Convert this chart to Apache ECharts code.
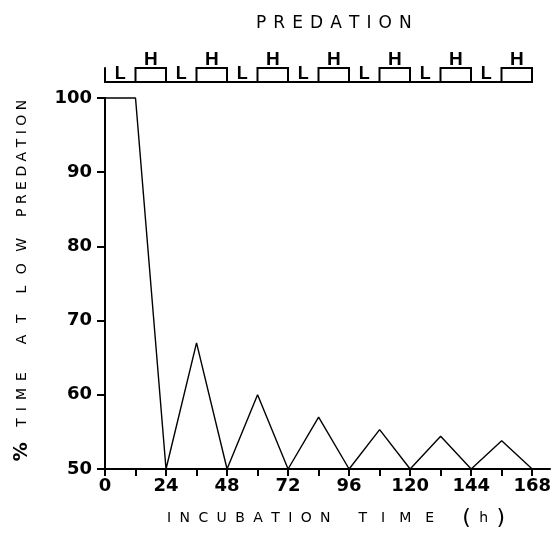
<!DOCTYPE html>
<html><head><meta charset="utf-8">
<script src="https://cdn.jsdelivr.net/npm/echarts@6/dist/echarts.min.js"></script>
<style>html,body{margin:0;padding:0;background:#fff}#c{width:555px;height:541px}</style>
</head><body><div id="c"></div>
<script>
// ---- data ----
const hours  = [0, 12, 24, 36, 48, 60, 72, 84, 96, 108, 120, 132, 144, 156, 168];
const pctLow = [100, 100, 50, 67, 50, 60, 50, 57, 50, 55.3, 50, 54.4, 50, 53.8, 50];
const xLabelTicks = [0, 24, 48, 72, 96, 120, 144, 168];
const xMinorTicks = [0, 12, 24, 36, 48, 60, 72, 84, 96, 108, 120, 132, 144, 156, 168];
const phaseStart = [0, 12, 24, 36, 48, 60, 72, 84, 96, 108, 120, 132, 144, 156];
const phaseLevel = ['L','H','L','H','L','H','L','H','L','H','L','H','L','H'];
const phaseLength = 12;

const FONT = 'DejaVu Sans';
const EN = '\u2002', EM = '\u2003', HAIR = '\u200A';
const spaced = (s, sep) => s.split('').join(sep);
const rep = (s, n) => s.repeat(n);

const chart = echarts.init(document.getElementById('c'), null, {renderer: 'canvas'});
const scheduleData = phaseStart.map((s, i) => [s, s + phaseLength, phaseLevel[i] === 'H' ? 1 : 0]);

const xName = spaced('INCUBATION', EN + HAIR) + rep(EN, 4) + spaced('TIME', EM) + rep(EN, 4) +
  '{p|(}' + EN + HAIR + 'h' + EN + HAIR + '{p|)}';
const yName = '{pc|%}' + rep(EN, 2) + HAIR + spaced('TIME', EN) + rep(EN, 4) + spaced('AT', EN + ' ') + rep(EN, 3) +
  spaced('LOW', EN + ' ') + rep(EN, 3) + spaced('PREDATION', ' ');

chart.setOption({
  backgroundColor: '#fff',
  animation: false,
  title: {
    text: spaced('PREDATION', ' ' + HAIR),
    left: 251, top: 10,
    textStyle: {fontFamily: FONT, fontSize: 17, fontWeight: 'normal', color: '#000'}
  },
  grid: [
    {left: 105, top: 98, width: 445, height: 371, outerBoundsMode: 'none', containLabel: false},
    {left: 105, top: 68, width: 427, height: 14, outerBoundsMode: 'none', containLabel: false}
  ],
  xAxis: [
    {
      gridIndex: 0, type: 'value', min: 0, max: 175,
      name: xName,
      nameLocation: 'middle', nameGap: 38,
      nameTextStyle: {
        fontFamily: FONT, fontSize: 14, color: '#000', padding: [0, 0, 0, 17],
        rich: {p: {fontFamily: FONT, fontSize: 22, color: '#000'}}
      },
      axisLine: {show: true, lineStyle: {color: '#000', width: 2}},
      axisTick: {show: true, customValues: xMinorTicks, length: 7, inside: false, lineStyle: {color: '#000', width: 2}},
      axisLabel: {show: true, customValues: xLabelTicks, margin: 8, fontFamily: FONT, fontSize: 18, fontWeight: 'bold', color: '#000'},
      splitLine: {show: false}
    },
    {
      gridIndex: 1, type: 'value', min: 0, max: 168,
      axisLine: {show: true, lineStyle: {color: '#000', width: 2}},
      axisTick: {show: false}, axisLabel: {show: false}, splitLine: {show: false}
    }
  ],
  yAxis: [
    {
      gridIndex: 0, type: 'value', min: 50, max: 100, interval: 10,
      name: yName,
      nameLocation: 'middle', nameRotate: 90, nameGap: 73,
      nameTextStyle: {
        fontFamily: FONT, fontSize: 14, color: '#000', padding: [0, 0, 0, 6],
        rich: {pc: {fontFamily: FONT, fontSize: 19, fontWeight: 'bold', color: '#000'}}
      },
      axisLine: {show: true, lineStyle: {color: '#000', width: 2}},
      axisTick: {show: true, length: 8, lineStyle: {color: '#000', width: 2}},
      axisLabel: {show: true, margin: 13, fontFamily: FONT, fontSize: 18, fontWeight: 'bold', color: '#000'},
      splitLine: {show: false}
    },
    {
      gridIndex: 1, type: 'value', min: 0, max: 1,
      axisLine: {show: true, lineStyle: {color: '#000', width: 2}},
      axisTick: {show: false}, axisLabel: {show: false}, splitLine: {show: false}
    }
  ],
  series: [
    {
      type: 'line', xAxisIndex: 0, yAxisIndex: 0,
      data: hours.map((h, i) => [h, pctLow[i]]),
      symbol: 'none', lineStyle: {color: '#000', width: 1.4}, clip: false
    },
    {
      type: 'custom', xAxisIndex: 1, yAxisIndex: 1, clip: false,
      data: scheduleData,
      encode: {x: [0, 1], y: 2},
      renderItem: function (params, api) {
        const s = api.value(0), e = api.value(1), lvl = api.value(2);
        const p0 = api.coord([s, 0]);
        const p1 = api.coord([e, 1]);
        const cx = (p0[0] + p1[0]) / 2;
        const children = [];
        if (lvl === 1) {
          children.push({type: 'rect', shape: {x: p0[0], y: p1[1], width: p1[0] - p0[0], height: p0[1] - p1[1]},
            style: {fill: '#fff', stroke: '#000', lineWidth: 2}});
          children.push({type: 'text', style: {text: 'H', x: cx, y: p1[1] + 1, align: 'center', verticalAlign: 'bottom',
            font: 'bold 19px "Liberation Sans"', fill: '#000'}});
        } else {
          children.push({type: 'text', style: {text: 'L', x: cx, y: p0[1] + 1, align: 'center', verticalAlign: 'bottom',
            font: 'bold 18px "Liberation Sans"', fill: '#000'}});
        }
        return {type: 'group', children: children};
      }
    }
  ]
});
</script>
</body></html>
